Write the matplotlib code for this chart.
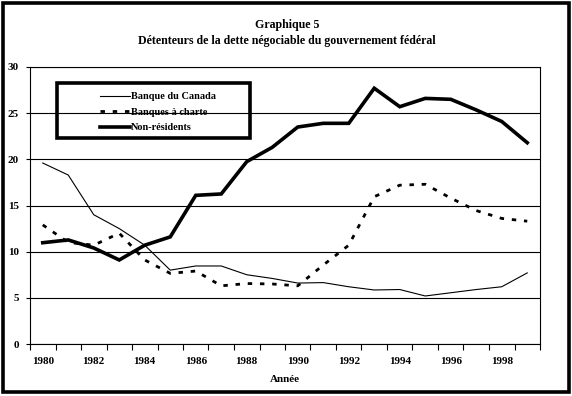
import matplotlib
matplotlib.use("Agg")
import matplotlib.pyplot as plt
import numpy as np
from matplotlib.patches import Rectangle

# données
annees = list(range(1980, 2000))
banque_canada = [19.6, 18.3, 14.0, 12.5, 10.7, 8.0, 8.45, 8.45, 7.5, 7.1,
                 6.6, 6.65, 6.2, 5.85, 5.9, 5.2, 5.55, 5.9, 6.2, 7.7]
banques_charte = [12.9, 11.0, 10.7, 12.0, 9.1, 7.65, 7.9, 6.3, 6.55, 6.5,
                  6.3, 8.55, 10.7, 15.95, 17.2, 17.3, 15.8, 14.45, 13.6, 13.3]
non_residents = [10.97, 11.27, 10.4, 9.1, 10.7, 11.6, 16.1, 16.25, 19.75, 21.3,
                 23.5, 23.9, 23.9, 27.7, 25.7, 26.6, 26.5, 25.35, 24.1, 21.8]
etiquettes_x = [str(a) for a in annees[::2]]

plt.rcParams['font.family'] = ['Liberation Serif', 'DejaVu Serif']
plt.rcParams['font.weight'] = 'bold'

fig = plt.figure(figsize=(5.72, 3.96), dpi=100)
ax = fig.add_axes([30/572, 52/396, 510/572, 277/396])

x = np.arange(len(annees))
ax.plot(x, banque_canada, color='black', lw=0.8, label='Banque du Canada')
ax.plot(x, banques_charte, color='black', lw=2.0, dashes=(1.6, 2.8),
        label='Banques à charte')
ax.plot(x, non_residents, color='black', lw=2.6, solid_joinstyle='miter',
        label='Non-résidents')

ax.set_xlim(-0.5, len(annees) - 0.5)
ax.set_ylim(0, 30)
ax.set_yticks(range(0, 31, 5))
ax.yaxis.grid(True, color='black', lw=0.8)
ax.set_axisbelow(True)

# graduations aux limites des catégories, étiquettes au centre
ax.set_xticks(np.arange(-0.5, len(annees), 1.0))
ax.set_xticklabels([])
ax.set_xticks(x[::2], minor=True)
ax.set_xticklabels(etiquettes_x, minor=True, fontsize=8, fontweight='bold')
ax.tick_params(axis='x', which='major', length=4, width=0.8, direction='out')
ax.tick_params(axis='x', which='minor', length=0, pad=9)
ax.tick_params(axis='y', length=3, width=0.8, labelsize=8, pad=5)
for s in ax.spines.values():
    s.set_linewidth(0.8)

ax.set_xlabel('Année', fontsize=8, fontweight='bold', labelpad=7)

fig.text(0.502, 0.936, 'Graphique 5', ha='center', va='center',
         fontsize=8.6, fontweight='bold')
fig.text(0.502, 0.896, 'Détenteurs de la dette négociable du gouvernement fédéral',
         ha='center', va='center', fontsize=8.6, fontweight='bold')

# cadre de la légende
ax.add_patch(Rectangle((27/510, (344-138)/277), 193/510, 55/277,
                       transform=ax.transAxes, fill=False, lw=2.6,
                       edgecolor='black', zorder=5))
leg = ax.legend(loc='upper left', bbox_to_anchor=(63/510, (344-85)/277),
                frameon=False, fontsize=7.4, handlelength=2.9,
                handletextpad=0.1, labelspacing=0.6, borderpad=0.2)
for t in leg.get_texts():
    t.set_fontweight('bold')

# cadre extérieur
fig.patches.append(Rectangle((3/572, 4/396), 566/572, 389/396,
                             transform=fig.transFigure, fill=False,
                             lw=2.6, edgecolor='black'))

fig.savefig('out.png', dpi=100)
